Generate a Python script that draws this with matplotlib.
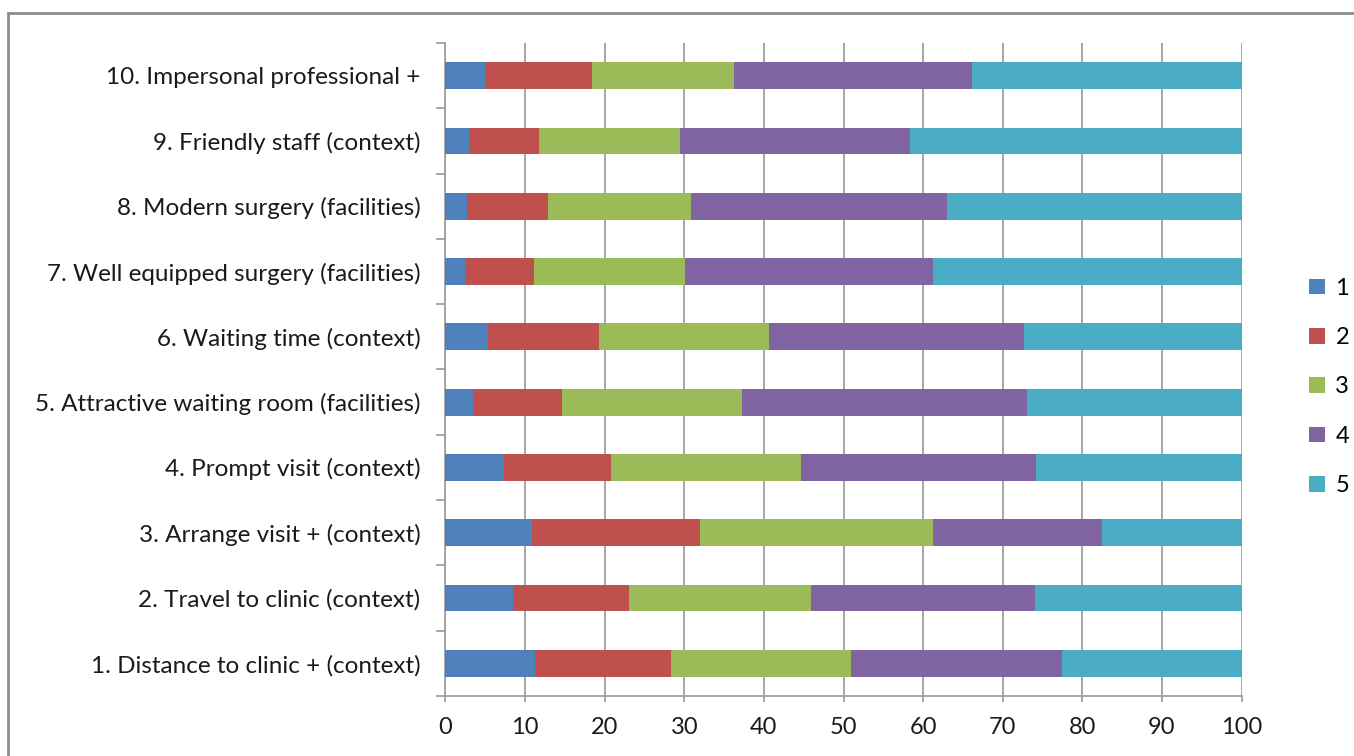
import matplotlib
matplotlib.use("Agg")
import matplotlib.pyplot as plt
from matplotlib.patches import Rectangle, Patch
import numpy as np

plt.rcParams['font.family'] = ['Lato', 'DejaVu Sans']

items = [
    '1. Distance to clinic + (context)',
    '2. Travel to clinic (context)',
    '3. Arrange visit + (context)',
    '4. Prompt visit (context)',
    '5. Attractive waiting room (facilities)',
    '6. Waiting time (context)',
    '7. Well equipped surgery (facilities)',
    '8. Modern surgery (facilities)',
    '9. Friendly staff (context)',
    '10. Impersonal professional +',
]

# percentage answering 1..5, one list per item (same order as items)
score_1 = [11.2, 8.5, 10.9, 7.3, 3.5, 5.4, 2.4, 2.7, 3.0, 5.0]
score_2 = [17.1, 14.5, 21.1, 13.5, 11.1, 13.9, 8.7, 10.2, 8.8, 13.4]
score_3 = [22.6, 22.9, 29.2, 23.9, 22.6, 21.4, 19.0, 18.0, 17.7, 17.8]
score_4 = [26.5, 28.1, 21.3, 29.5, 35.9, 32.0, 31.1, 32.1, 28.8, 29.9]
score_5 = [22.6, 26.0, 17.5, 25.8, 26.9, 27.3, 38.8, 37.0, 41.7, 33.9]

series = [score_1, score_2, score_3, score_4, score_5]
series_names = ['1', '2', '3', '4', '5']
colors = ['#4F81BD', '#C0504D', '#9BBB59', '#8064A2', '#4BACC6']

W, H = 1354, 756
fig = plt.figure(figsize=(W / 100, H / 100), dpi=100)
ax = fig.add_axes([445.5 / W, 1 - 696 / H, 796 / W, 653 / H])

y = np.arange(len(items))
left = np.zeros(len(items))
for vals, c, name in zip(series, colors, series_names):
    ax.barh(y, vals, left=left, height=0.41, color=c, label=name, zorder=3)
    left += np.array(vals)

ax.set_xlim(0, 100)
ax.set_ylim(-0.5, len(items) - 0.5)
ax.set_xticks(range(0, 101, 10))
ax.set_yticks(y)
ax.set_yticklabels(items)
ax.set_yticks(np.arange(-0.5, len(items), 1), minor=True)

ax.grid(axis='x', color='#A0A0A0', linewidth=1.3, zorder=0)
for s in ['top', 'right']:
    ax.spines[s].set_visible(False)
for s in ['left', 'bottom']:
    ax.spines[s].set_color('#A0A0A0')
    ax.spines[s].set_linewidth(1.3)

ax.tick_params(axis='y', which='major', length=0, pad=18, labelsize=17.5, labelcolor='#1a1a1a')
ax.tick_params(axis='y', which='minor', length=6.5, width=1.3, color='#A0A0A0', direction='out')
ax.tick_params(axis='x', which='major', length=4, width=1.3, color='#A0A0A0', pad=11,
               labelsize=17, labelcolor='#1a1a1a')

handles = [Patch(facecolor=c, label=n) for c, n in zip(colors, series_names)]
fig.legend(handles=handles, loc='center left', bbox_to_anchor=(1300 / W, 1 - 387 / H),
           frameon=False, fontsize=17, handlelength=0.65, handleheight=0.65,
           handletextpad=0.45, labelspacing=1.2, borderaxespad=0)

# chart frame
fig.patches.append(Rectangle((8 / W, -0.1), 1.2, 1 - 13 / H + 0.1, transform=fig.transFigure,
                             fill=False, edgecolor='#8C8C8C', linewidth=2))

fig.savefig('out.png', dpi=100)
